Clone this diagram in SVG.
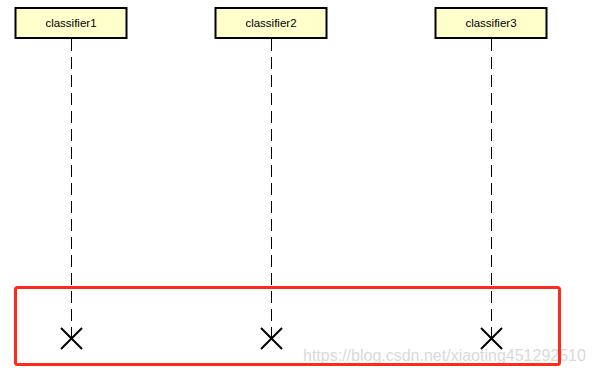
<svg xmlns="http://www.w3.org/2000/svg" width="595" height="374" viewBox="0 0 595 374">
<style>
.box{fill:#ffffcc;stroke:#000;stroke-width:2}
.lbl{font-family:"Liberation Sans",Arial,sans-serif;font-size:11.5px;fill:#000;text-anchor:middle}
.life{stroke:#000;stroke-width:1;stroke-dasharray:12 6;fill:none}
.x{stroke:#000;stroke-width:2;fill:none}
.wm{font-family:"Liberation Sans",Arial,sans-serif;font-size:16px;fill:#d9d9d9}
</style>
<rect width="595" height="374" fill="#fff"/>
<g id="connectors">
<line class="life" x1="71.5" y1="39" x2="71.5" y2="338"/>
<line class="life" x1="271.5" y1="39" x2="271.5" y2="338"/>
<line class="life" x1="491.5" y1="39" x2="491.5" y2="338"/>
</g>
<g id="classifier1"><rect class="box" x="15.5" y="8" width="111" height="30"/><text class="lbl" x="71" y="27">classifier1</text></g>
<g id="classifier2"><rect class="box" x="215.5" y="8" width="111" height="30"/><text class="lbl" x="271" y="27">classifier2</text></g>
<g id="classifier3"><rect class="box" x="435.5" y="8" width="111" height="30"/><text class="lbl" x="491" y="27">classifier3</text></g>
<g id="end1"><path class="x" d="M61 328L82 349M82 328L61 349"/></g>
<g id="end2"><path class="x" d="M261 328L282 349M282 328L261 349"/></g>
<g id="end3"><path class="x" d="M481 328L502 349M502 328L481 349"/></g>
<text class="wm" x="303" y="361">https://blog.csdn.net/xiaoting451292510</text>
<rect id="highlight" x="15.5" y="287.5" width="544" height="77" rx="2" fill="none" stroke="#ff2a1a" stroke-width="3"/>
</svg>
